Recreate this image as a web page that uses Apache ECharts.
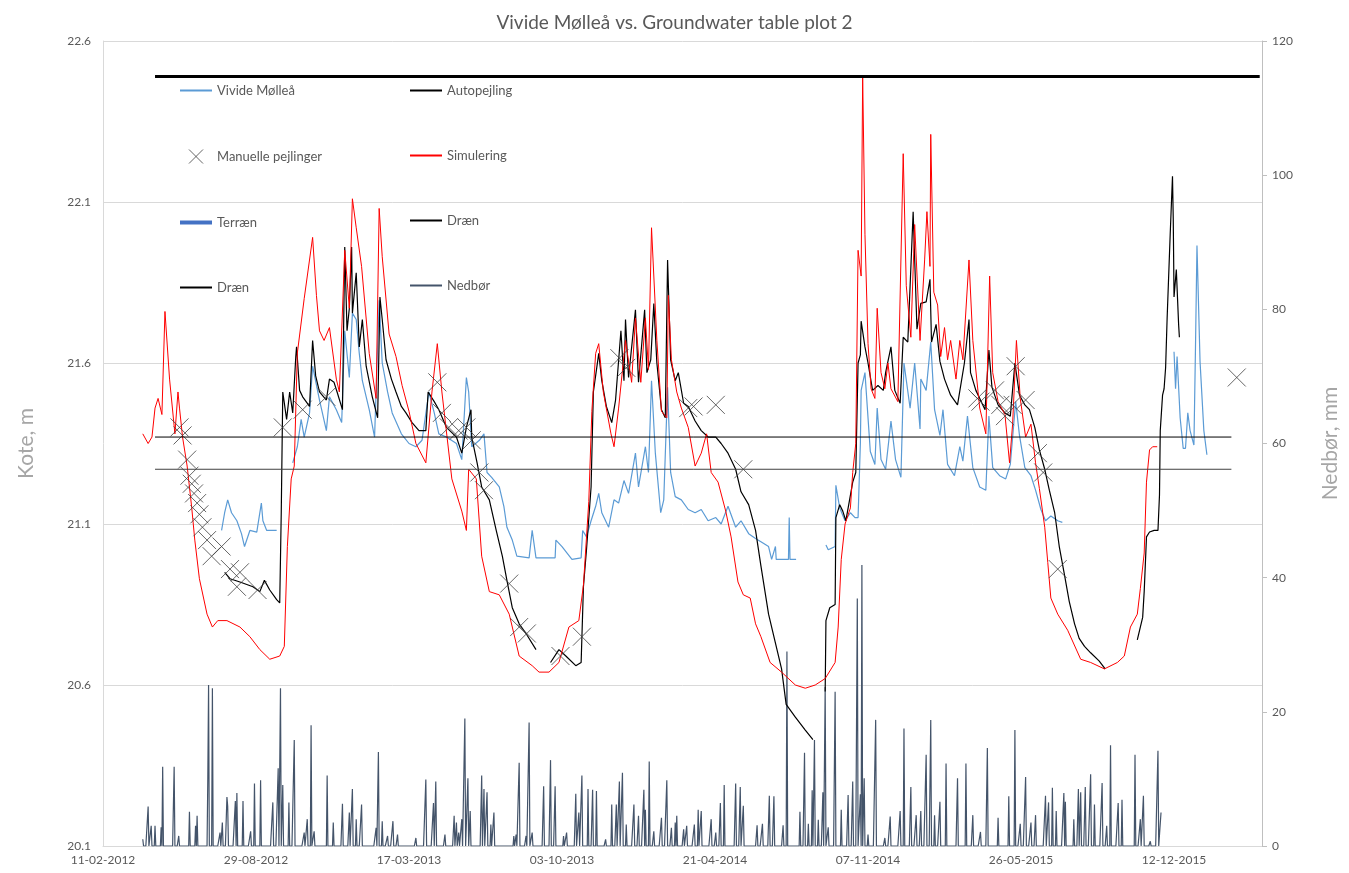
<!DOCTYPE html>
<html>
<head>
<meta charset="utf-8">
<title>Vivide Mølleå vs. Groundwater table plot 2</title>
<script src="https://cdn.jsdelivr.net/npm/echarts@6/dist/echarts.min.js"></script>
<style>
  html, body { margin: 0; padding: 0; background: #fff; }
  #chart { width: 1349px; height: 873px; }
</style>
</head>
<body>
<div id="chart"></div>
<script>
// x values are days after 11-02-2012 (first date on the axis)
const startDate = Date.UTC(2012, 1, 11);
const axisMaxDay = 1515;

// Vivide Mølleå (stream level), kote m
const moelleaa = [
  [155,21.08],[159,21.135],[163,21.175],[168,21.135],[175,21.11],[181,21.07],[185,21.03],[192,21.08],[201,21.075],[207,21.165],[209,21.11],[214,21.08],[227,21.08],[238,null],
  [248,21.29],[254,21.34],[259,21.425],[263,21.37],[270,21.445],[274,21.59],[283,21.485],[292,21.39],[296,21.495],[305,21.455],[312,21.415],[316,21.70],[322,21.555],[326,21.755],[331,21.735],[335,21.63],[339,21.545],[348,21.455],[355,21.37],[361,21.795],[365,21.6],[372,21.51],[378,21.445],[390,21.38],[400,21.35],[409,21.34],[417,21.36],[426,21.51],[433,21.445],[439,21.38],[449,21.37],[462,21.35],[469,21.30],[475,21.555],[478,21.51],[482,21.34],[492,21.36],[498,21.38],[502,21.26],[508,21.245],[518,21.215],[524,21.155],[528,21.09],[535,21.05],[541,21.0],
  [557,20.995],[561,21.08],[566,20.995],[574,20.995],[591,20.995],[592,21.05],[600,21.03],[613,20.99],[625,20.995],[627,21.08],[632,21.06],[638,21.11],[644,21.155],[648,21.195],[652,21.135],[661,21.09],[668,21.175],[674,21.165],[681,21.235],[687,21.195],[696,21.32],[700,21.215],[709,21.34],[713,21.26],[717,21.545],[722,21.32],[729,21.135],[733,21.175],[738,21.525],[742,21.26],[748,21.185],[756,21.175],[765,21.145],[774,21.135],[782,21.145],[791,21.11],[801,21.12],[808,21.10],[817,21.155],[827,21.09],[834,21.11],[844,21.07],[853,21.055],[860,21.045],[870,21.03],[874,20.99],[879,21.03],[880,20.99],[896,20.99],[897,21.12],[898,20.99],[906,20.99],[925,null],
  [945,21.035],[948,21.02],[957,21.03],[958,21.22],[963,21.15],[970,21.11],[977,21.135],[983,21.12],[987,21.12],[990,21.35],[991,21.515],[996,21.57],[1003,21.325],[1009,21.285],[1012,21.46],[1017,21.30],[1023,21.27],[1030,21.42],[1036,21.30],[1043,21.245],[1047,21.6],[1055,21.46],[1061,21.6],[1068,21.395],[1069,21.55],[1076,21.515],[1082,21.665],[1087,21.455],[1094,21.375],[1098,21.455],[1104,21.285],[1113,21.25],[1120,21.34],[1124,21.295],[1130,21.435],[1137,21.275],[1146,21.215],[1154,21.205],[1158,21.435],[1163,21.275],[1172,21.25],[1180,21.24],[1186,21.285],[1193,21.48],[1198,21.375],[1205,21.275],[1213,21.25],[1219,21.205],[1226,21.145],[1232,21.11],[1239,21.125],[1248,21.11],[1254,21.105],[1330,null],
  [1400,21.635],[1402,21.52],[1404,21.62],[1408,21.43],[1412,21.335],[1415,21.335],[1418,21.445],[1421,21.39],[1426,21.345],[1428,21.64],[1430,21.965],[1434,21.605],[1439,21.39],[1443,21.315]
];

// Autopejling (logger), kote m
const autopejling = [
  [159,20.95],[166,20.93],[179,20.92],[196,20.905],[205,20.89],[211,20.925],[218,20.895],[227,20.865],[231,20.855],[233,21.135],[235,21.51],[240,21.425],[244,21.51],[248,21.445],[252,21.62],[253,21.65],[257,21.515],[261,21.495],[270,21.465],[274,21.67],[278,21.56],[283,21.51],[292,21.485],[296,21.55],[302,21.54],[306,21.51],[313,21.455],[316,21.96],[319,21.70],[322,21.77],[325,21.96],[326,21.755],[331,21.88],[335,21.65],[339,21.735],[344,21.59],[352,21.495],[359,21.43],[362,21.805],[365,21.735],[370,21.61],[377,21.55],[383,21.51],[390,21.465],[396,21.445],[404,21.415],[413,21.39],[422,21.39],[425,21.51],[433,21.48],[439,21.455],[449,21.40],[462,21.37],[469,21.32],[475,21.40],[481,21.455],[482,21.37],[489,21.29],[495,21.215],[505,21.175],[514,21.08],[522,21.0],[528,20.925],[535,20.84],[544,20.79],[553,20.76],[566,20.71],[575,null],
  [585,20.67],[596,20.71],[605,20.69],[618,20.66],[625,20.67],[628,20.905],[632,21.02],[638,21.215],[641,21.51],[648,21.63],[652,21.545],[658,21.465],[665,21.415],[670,21.485],[677,21.70],[681,21.545],[683,21.735],[687,21.555],[696,21.765],[700,21.54],[708,21.765],[711,21.57],[716,21.61],[720,21.785],[724,21.6],[730,21.455],[735,21.43],[738,21.92],[742,21.61],[748,21.545],[752,21.57],[759,21.475],[765,21.465],[774,21.42],[782,21.39],[791,21.37],[801,21.37],[808,21.35],[817,21.32],[827,21.27],[834,21.20],[844,21.16],[853,21.08],[860,20.97],[870,20.82],[879,20.73],[887,20.65],[893,20.54],[905,20.50],[918,20.46],[928,20.43],[936,null],
  [944,20.58],[945,20.80],[950,20.84],[957,20.85],[958,21.12],[963,21.16],[967,21.14],[971,21.11],[977,21.19],[980,21.23],[984,21.26],[987,21.60],[990,21.625],[991,21.73],[996,21.65],[1000,21.60],[1006,21.515],[1013,21.53],[1020,21.515],[1023,21.57],[1030,21.65],[1035,21.515],[1042,21.475],[1046,21.68],[1052,21.665],[1059,22.07],[1064,21.705],[1069,21.785],[1076,21.79],[1081,21.86],[1083,21.665],[1089,21.72],[1094,21.605],[1100,21.55],[1108,21.50],[1117,21.47],[1126,21.60],[1132,21.735],[1134,21.57],[1141,21.515],[1153,21.455],[1158,21.64],[1162,21.525],[1170,21.47],[1179,21.445],[1186,21.435],[1192,21.60],[1198,21.50],[1205,21.47],[1211,21.455],[1218,21.40],[1224,21.33],[1231,21.27],[1237,21.205],[1244,21.135],[1250,21.03],[1257,20.94],[1263,20.86],[1270,20.79],[1276,20.745],[1283,20.72],[1291,20.70],[1302,20.675],[1310,20.65],[1330,null],
  [1352,20.74],[1359,20.81],[1361,20.89],[1364,21.06],[1368,21.075],[1374,21.08],[1379,21.08],[1381,21.19],[1382,21.39],[1385,21.50],[1387,21.52],[1389,21.585],[1391,21.74],[1394,21.935],[1395,22.0],[1398,22.18],[1399,22.045],[1400,21.805],[1403,21.89],[1406,21.72],[1407,21.68]
];

// Manuelle pejlinger, kote m
const manuelle = [
  [100,21.40],[104,21.375],[110,21.30],[113,21.25],[116,21.225],[119,21.195],[123,21.165],[126,21.13],[130,21.09],[136,21.05],[142,21.0],[155,21.03],[166,20.96],[179,20.95],[175,20.905],[202,20.895],
  [235,21.40],[261,21.455],[292,21.495],[437,21.54],[443,21.445],[452,21.40],[465,21.39],[475,21.40],[482,21.36],[492,21.26],[498,21.205],[531,20.915],[544,20.78],[554,20.76],[598,20.69],[626,20.75],
  [675,21.615],[684,21.585],[765,21.46],[772,21.465],[801,21.47],[837,21.27],
  [1143,21.49],[1147,21.48],[1166,21.515],[1173,21.47],[1179,21.435],[1189,21.47],[1193,21.59],[1206,21.485],[1222,21.32],[1229,21.26],[1248,20.96],[1482,21.555]
];

// Simulering, kote m
const simulering = [
  [52,21.38],[59,21.35],[64,21.37],[68,21.46],[72,21.49],[77,21.44],[81,21.76],[87,21.55],[94,21.38],[98,21.51],
  [100,21.46],[104,21.37],[110,21.28],[116,21.15],[120,21.05],[126,20.93],[136,20.82],[143,20.78],[150,20.80],[162,20.80],
  [179,20.78],[192,20.75],[205,20.71],[218,20.68],[231,20.69],[237,20.72],[241,21.03],[246,21.24],[250,21.28],[254,21.63],
  [263,21.80],[274,21.99],[279,21.81],[283,21.70],[289,21.67],[296,21.71],[305,21.55],[309,21.51],[316,21.95],[322,21.77],
  [326,22.11],[331,22.02],[338,21.90],[348,21.63],[357,21.49],[361,22.08],[365,21.93],[374,21.69],[383,21.62],[391,21.53],
  [400,21.45],[409,21.35],[422,21.29],[430,21.51],[437,21.66],[443,21.51],[456,21.24],[469,21.14],[475,21.08],[478,21.27],
  [488,21.24],[495,21.00],[505,20.89],[518,20.88],[531,20.82],[544,20.69],[561,20.66],[570,20.64],[583,20.64],[596,20.67],
  [609,20.78],[622,20.80],[628,20.91],[635,21.17],[639,21.45],[644,21.63],[648,21.66],[654,21.51],[664,21.38],[668,21.34],
  [674,21.46],[683,21.67],[691,21.54],[696,21.74],[703,21.54],[709,21.74],[713,21.58],[717,22.02],[724,21.67],[730,21.45],
  [737,21.43],[739,21.81],[743,21.61],[750,21.51],[756,21.46],[765,21.40],[774,21.28],[782,21.32],[789,21.38],[795,21.26],
  [804,21.23],[814,21.14],[821,21.06],[830,20.92],[837,20.88],[846,20.87],[853,20.79],[860,20.75],[872,20.67],[887,20.64],
  [905,20.60],[918,20.59],[931,20.60],[944,20.62],[957,20.67],[961,20.78],[965,20.99],[970,21.10],[977,21.15],[980,21.26],
  [984,21.35],[987,21.95],[991,21.87],[993,22.49],[996,22.00],[1000,21.66],[1004,21.52],[1009,21.49],[1012,21.77],[1017,21.57],
  [1022,21.52],[1026,21.60],[1030,21.52],[1039,21.48],[1046,22.25],[1050,21.84],[1056,21.68],[1061,22.03],[1068,21.67],[1074,21.92],
  [1077,22.07],[1081,21.90],[1082,22.31],[1086,21.82],[1091,21.78],[1095,21.62],[1100,21.71],[1104,21.61],[1108,21.67],[1115,21.55],
  [1120,21.67],[1124,21.61],[1132,21.92],[1137,21.67],[1146,21.46],[1154,21.38],[1159,21.87],[1163,21.57],[1170,21.48],[1179,21.44],
  [1185,21.29],[1189,21.41],[1194,21.67],[1199,21.49],[1206,21.37],[1213,21.41],[1219,21.29],[1224,21.21],[1231,21.09],[1235,20.98],
  [1239,20.87],[1248,20.82],[1261,20.77],[1278,20.68],[1291,20.67],[1309,20.65],[1326,20.67],[1335,20.69],[1343,20.78],[1352,20.82],
  [1356,20.90],[1361,21.01],[1364,21.23],[1368,21.33],[1372,21.34],[1378,21.34]
];

// Terræn and the two drain levels, kote m, with their first/last day
const terraenKote = 22.49;
const terraenDays = [68, 1512];
const draenKote = [21.37, 21.27];
const draenDays = [68, 1475];

// Nedbør, mm on the rain days (all other days in the record are 0)
const nedboer = [
  [52,1],[59,5.9],[63,3.0],[68,3.0],[76,2.8],[78,11.8],[93,11.8],[99,1.5],[113,5.1],[121,3],[123,4.5],[137,10.1],[138,24],[143,23.5],
  [153,2],[156,3.5],[162,7.3],[163,5.9],[173,6.7],[175,7.9],[183,6.7],[193,2.2],[198,9.3],[206,9.8],[222,6.5],[229,11.6],[232,23.5],
  [235,9.1],[243,6.5],[250,15.8],[263,2.0],[267,4.0],[272,18],[276,2.2],[293,10.5],[301,3.5],[313,6.3],[322,5],[326,8.5],[331,4],
  [338,6.2],[357,2.7],[360,14],[365,3.7],[372,1.5],[379,3.7],[385,1.7],[409,1.2],[422,9.9],[432,6.4],[435,9.6],[447,1.7],[459,4.5],
  [462,3.5],[465,2],[469,4],[473,19],[477,10.1],[480,5.2],[495,10.5],[498,8.5],[502,8],[507,3.2],[511,5],[537,1.5],[540,1.7],[544,12.4],
  [553,1.5],[557,18.4],[561,2],[576,8.9],[585,12.8],[591,8.9],[602,1.5],[606,2],[618,7.8],[622,5],[626,10.5],[634,8.5],[640,8.4],
  [645,8.2],[657,1],[665,6.2],[671,6.2],[675,9.6],[679,10.9],[684,3.2],[694,6.2],[700,4.5],[707,8.4],[709,5.4],[714,12.6],[720,2.2],
  [730,4.2],[737,9.8],[743,2.7],[748,3.5],[750,4.5],[759,2.5],[763,3],[773,3.2],[778,5.4],[782,5.2],[795,4],[801,2],[807,6.4],[812,9.1],
  [827,9.3],[833,8.8],[837,6.0],[855,3.1],[862,3.3],[871,7.5],[877,7.4],[889,3.1],[894,29],[911,5.1],[917,13.9],[922,3.3],[927,8.3],
  [930,15.8],[935,3.9],[941,8.0],[944,23.7],[948,2.8],[957,23],[965,5.4],[974,7.6],[980,9.6],[986,36.9],[990,7.7],[992,41.9],[995,10.1],
  [1000,1.7],[1010,18.8],[1022,1.2],[1029,4.4],[1042,5.2],[1047,17.5],[1056,8.8],[1063,4.6],[1069,5.2],[1076,13.6],[1082,18.8],[1087,4.6],
  [1094,6.6],[1102,12.3],[1117,10.1],[1128,12.3],[1137,4.6],[1147,2.1],[1156,14.6],[1170,4.2],[1184,7.4],[1192,17.3],[1199,3.3],[1206,10.3],
  [1213,3.5],[1219,4.6],[1232,7.5],[1236,6.5],[1241,8.7],[1246,5.2],[1256,7.9],[1258,6.6],[1269,4],[1275,8.5],[1278,8.0],[1284,8.8],
  [1291,10.7],[1296,6.2],[1306,9.4],[1312,3],[1317,15],[1327,6.4],[1332,6.9],[1349,13.6],[1356,4],[1360,7.5],[1369,0.7],[1379,14.2],[1383,5]
];

function dayLabel(v) {
  const t = new Date(startDate + v * 86400000);
  const dd = String(t.getUTCDate()).padStart(2, '0');
  const mm = String(t.getUTCMonth() + 1).padStart(2, '0');
  return dd + '-' + mm + '-' + t.getUTCFullYear();
}

function withGaps(list) {
  return list.map(p => [p[0], p[1] === null ? '-' : p[1]]);
}

// daily rain record, 0 on days without rain
const rainByDay = new Map(nedboer);
const rainDaily = [];
for (let d = nedboer[0][0]; d <= nedboer[nedboer.length - 1][0]; d++) {
  rainDaily.push([d, rainByDay.has(d) ? rainByDay.get(d) : 0]);
}

const grey = '#595959';
const xMark = 'path://M0,0L10,10M10,0L0,10';
// legend entries for lines: only the line, no dot in the middle
const lineOnly = { opacity: 0 };

const chart = echarts.init(document.getElementById('chart'));

chart.setOption({
  animation: false,
  backgroundColor: '#fff',
  textStyle: { fontFamily: 'Lato' },
  title: {
    text: 'Vivide Mølleå vs. Groundwater table plot 2',
    left: 'center',
    top: 8,
    textStyle: { color: grey, fontSize: 19, fontWeight: 'normal', fontFamily: 'Lato' }
  },
  legend: [
    {
      orient: 'vertical',
      left: 178,
      top: 84,
      padding: 0,
      itemWidth: 32,
      itemHeight: 14,
      itemGap: 52,
      textStyle: { color: grey, fontSize: 13, fontFamily: 'Lato' },
      data: [
        { name: 'Vivide Mølleå', itemStyle: lineOnly },
        { name: 'Manuelle pejlinger', itemStyle: { color: 'rgba(0,0,0,0)', borderColor: '#404040', borderWidth: 1 } },
        { name: 'Terræn', itemStyle: lineOnly, lineStyle: { color: '#4472c4', width: 4 } },
        { name: 'Dræn', itemStyle: lineOnly }
      ]
    },
    {
      orient: 'vertical',
      left: 409,
      top: 84,
      padding: 0,
      itemWidth: 32,
      itemHeight: 14,
      itemGap: 52,
      textStyle: { color: grey, fontSize: 13, fontFamily: 'Lato' },
      data: [
        { name: 'Autopejling', itemStyle: lineOnly },
        { name: 'Simulering', itemStyle: lineOnly },
        { name: 'Dræn', itemStyle: lineOnly },
        { name: 'Nedbør', itemStyle: lineOnly }
      ]
    }
  ],
  grid: { left: 103, right: 84, top: 41, bottom: 27 },
  xAxis: {
    type: 'value',
    min: 0,
    max: axisMaxDay,
    interval: 200,
    splitLine: { show: false },
    axisLine: { show: true, lineStyle: { color: '#d9d9d9' } },
    axisTick: { show: false },
    axisLabel: { color: grey, fontSize: 12, margin: 8, showMaxLabel: false, formatter: dayLabel }
  },
  yAxis: [
    {
      type: 'value',
      min: 20.1,
      max: 22.6,
      interval: 0.5,
      name: 'Kote, m',
      nameLocation: 'middle',
      nameRotate: 90,
      nameGap: 66,
      nameTextStyle: { color: '#a6a6a6', fontSize: 21 },
      axisLine: { show: true, lineStyle: { color: '#d9d9d9' } },
      axisTick: { show: false },
      axisLabel: { color: grey, fontSize: 12, margin: 12 },
      splitLine: { lineStyle: { color: '#d9d9d9' } }
    },
    {
      type: 'value',
      min: 0,
      max: 120,
      interval: 20,
      name: 'Nedbør, mm',
      nameLocation: 'middle',
      nameRotate: 90,
      nameGap: 58,
      nameTextStyle: { color: '#a6a6a6', fontSize: 21 },
      axisLine: { show: true, lineStyle: { color: '#bfbfbf' } },
      axisTick: { show: true, length: 5, lineStyle: { color: '#bfbfbf' } },
      axisLabel: { color: grey, fontSize: 12, margin: 10 },
      splitLine: { show: false }
    }
  ],
  series: [
    {
      name: 'Nedbør',
      type: 'line',
      yAxisIndex: 1,
      data: rainDaily,
      symbol: 'none',
      lineStyle: { color: '#44546a', width: 1.2 },
      itemStyle: { color: '#44546a' },
      z: 1
    },
    {
      name: 'Vivide Mølleå',
      type: 'line',
      data: withGaps(moelleaa),
      symbol: 'none',
      lineStyle: { color: '#5b9bd5', width: 1.2 },
      itemStyle: { color: '#5b9bd5' },
      z: 2
    },
    {
      name: 'Autopejling',
      type: 'line',
      data: withGaps(autopejling),
      symbol: 'none',
      lineStyle: { color: '#000', width: 1.2 },
      itemStyle: { color: '#000' },
      z: 3
    },
    {
      name: 'Simulering',
      type: 'line',
      data: simulering,
      symbol: 'none',
      lineStyle: { color: '#ff0000', width: 1 },
      itemStyle: { color: '#ff0000' },
      z: 4
    },
    {
      name: 'Manuelle pejlinger',
      type: 'scatter',
      data: manuelle,
      symbol: xMark,
      symbolSize: 18,
      itemStyle: { color: 'rgba(0,0,0,0)', borderColor: '#404040', borderWidth: 1 },
      z: 5
    },
    {
      name: 'Terræn',
      type: 'line',
      data: terraenDays.map(d => [d, terraenKote]),
      symbol: 'none',
      lineStyle: { color: '#000', width: 3 },
      itemStyle: { color: '#000' },
      z: 6
    },
    {
      name: 'Dræn',
      type: 'line',
      data: draenDays.map(d => [d, draenKote[0]]),
      symbol: 'none',
      lineStyle: { color: '#000', width: 1 },
      itemStyle: { color: '#000' },
      z: 6
    },
    {
      name: 'Dræn',
      type: 'line',
      data: draenDays.map(d => [d, draenKote[1]]),
      symbol: 'none',
      lineStyle: { color: '#404040', width: 1 },
      itemStyle: { color: '#404040' },
      z: 6
    }
  ]
});
</script>
</body>
</html>
